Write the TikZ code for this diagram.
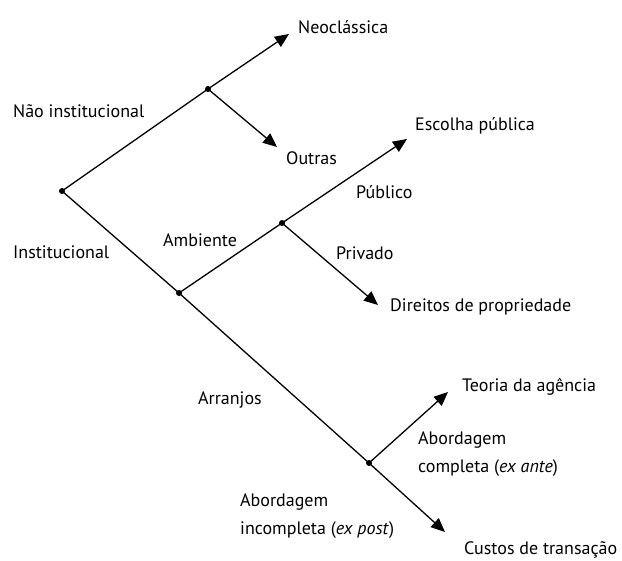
\documentclass[tikz,border=0pt]{standalone}
\usepackage{fontspec}
\setmainfont{PT Sans}
\usetikzlibrary{arrows.meta}
\begin{document}
\begin{tikzpicture}[x=1pt,y=-1pt,
  branch/.style={line width=1.3pt},
  arrowed/.style={line width=1.3pt,-{Triangle[length=14pt,width=12pt]}},
  dotnode/.style={circle,fill=black,inner sep=0pt,minimum size=6pt},
  lbl/.style={font=\fontsize{18}{28}\selectfont,inner sep=0pt,anchor=west,align=left}]
\useasboundingbox (0,0) rectangle (622,561);
% junction points
\node[dotnode] (root) at (62,191) {};
\node[dotnode] (n1) at (208,89) {};
\node[dotnode] (n2) at (179,293) {};
\node[dotnode] (n3) at (282,223) {};
\node[dotnode] (n4) at (369,463) {};
% arrow tips
\coordinate (tneo) at (289,34);
\coordinate (tout) at (277,147);
\coordinate (tesc) at (407,139);
\coordinate (tdir) at (378,305);
\coordinate (tteo) at (448,392);
\coordinate (tcus) at (445,532);
% connectors
\draw[branch] (root.center) -- (n1.center);
\draw[branch] (root.center) -- (n2.center);
\draw[branch] (n2.center) -- (n3.center);
\draw[branch] (n2.center) -- (n4.center);
\draw[arrowed] (n1.center) -- (tneo);
\draw[arrowed] (n1.center) -- (tout);
\draw[arrowed] (n3.center) -- (tesc);
\draw[arrowed] (n3.center) -- (tdir);
\draw[arrowed] (n4.center) -- (tteo);
\draw[arrowed] (n4.center) -- (tcus);
% labels
\node[lbl] (neo) at (298,27) {Neoclássica};
\node[lbl] (out) at (286,158) {Outras};
\node[lbl] (nao) at (13,111) {Não institucional};
\node[lbl] (inst) at (13,252) {Institucional};
\node[lbl] (amb) at (163,240) {Ambiente};
\node[lbl] (esc) at (415,126) {Escolha pública};
\node[lbl] (pub) at (356,192) {Público};
\node[lbl] (priv) at (336,253) {Privado};
\node[lbl] (dir) at (390,307) {Direitos de propriedade};
\node[lbl] (arr) at (198,400) {Arranjos};
\node[lbl] (teo) at (462,387) {Teoria da agência};
\node[lbl] (comp) at (418,454) {Abordagem\\completa (\textit{ex ante})};
\node[lbl] (inc) at (240,516) {Abordagem\\incompleta (\textit{ex post})};
\node[lbl] (cus) at (464,550) {Custos de transação};
\end{tikzpicture}
\end{document}
